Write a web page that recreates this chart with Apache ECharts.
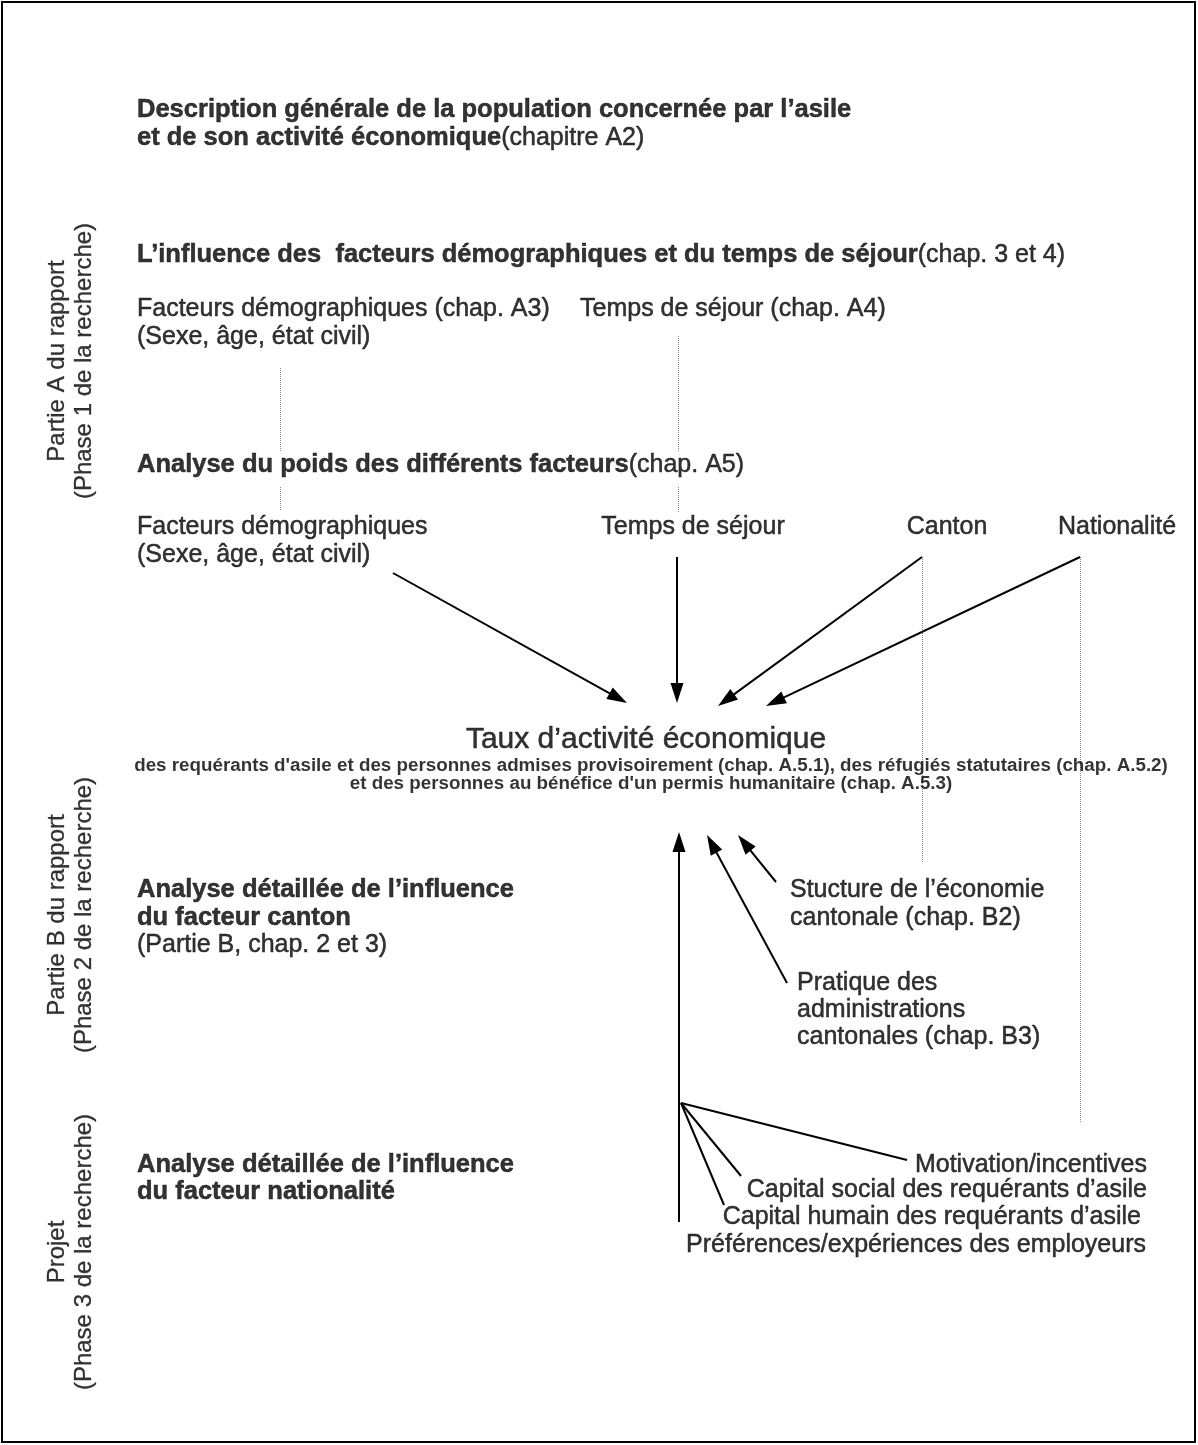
<!DOCTYPE html>
<html>
<head>
<meta charset="utf-8">
<script src="https://cdn.jsdelivr.net/npm/echarts@6/dist/echarts.min.js"></script>
<style>
html,body{margin:0;padding:0;background:#fff;}
#chart{width:1198px;height:1445px;}
</style>
</head>
<body>
<div id="chart"></div>
<script>
// ---- Diagram content (layout units = page pixels) ----
// Section headings: [x, y, bold part, normal suffix]
const headings = [
  [137, 110, 'Description générale de la population concernée par l’asile', ''],
  [137, 138, 'et de son activité économique', '(chapitre A2)'],
  [137, 255, 'L’influence des  facteurs démographiques et du temps de séjour', '(chap. 3 et 4)'],
  [137, 465, 'Analyse du poids des différents facteurs', '(chap. A5)'],
  [137, 890, 'Analyse détaillée de l’influence', ''],
  [137, 918, 'du facteur canton', ''],
  [137, 1165, 'Analyse détaillée de l’influence', ''],
  [137, 1192, 'du facteur nationalité', '']
];
// Plain left-aligned labels: [x, y, text]
const plainLabels = [
  [137, 309, 'Facteurs démographiques (chap. A3)'],
  [137, 337, '(Sexe, âge, état civil)'],
  [580, 309, 'Temps de séjour (chap. A4)'],
  [137, 527, 'Facteurs démographiques'],
  [137, 555, '(Sexe, âge, état civil)'],
  [137, 945, '(Partie B, chap. 2 et 3)'],
  [790, 890, 'Stucture de l’économie'],
  [790, 918, 'cantonale (chap. B2)'],
  [797, 983, 'Pratique des'],
  [797, 1010, 'administrations'],
  [797, 1037, 'cantonales (chap. B3)']
];
// Centered factor names: [x, y, text]
const factorNames = [
  [693, 527, 'Temps de séjour'],
  [947, 527, 'Canton'],
  [1117, 527, 'Nationalité']
];
// Right-aligned nationality factors: [x, y, text]
const nationalityFactors = [
  [1147, 1165, 'Motivation/incentives'],
  [1147, 1190, 'Capital social des requérants d’asile'],
  [1141, 1217, 'Capital humain des requérants d’asile'],
  [1146, 1245, 'Préférences/expériences des employeurs']
];
// Outcome node
const outcomeTitle = [[646, 740, 'Taux d’activité économique']];
const outcomeSub = [
  [651, 766, 'des requérants d\'asile et des personnes admises provisoirement (chap. A.5.1), des réfugiés statutaires (chap. A.5.2)'],
  [651, 784, 'et des personnes au bénéfice d\'un permis humanitaire (chap. A.5.3)']
];
// Phase labels (vertical): [x, y, line1, line2]
const phases = [
  [71, 361, 'Partie A du rapport', '(Phase 1 de la recherche)'],
  [71, 915, 'Partie B du rapport', '(Phase 2 de la recherche)'],
  [71, 1252, 'Projet', '(Phase 3 de la recherche)']
];
// Links: [[x1,y1],[x2,y2]]  (second point = arrow tip)
const arrowsDown = [
  [[393, 573], [627, 703]],
  [[677, 557], [677, 703]],
  [[922, 557], [718, 706]],
  [[1080, 557], [766, 706]]
];
const arrowsUp = [
  [[679, 1222], [679, 832]],
  [[787, 983], [707, 835]],
  [[776, 882], [738, 835]]
];
const fanLines = [
  [[681, 1103], [907, 1160]],
  [[681, 1103], [741, 1176]],
  [[681, 1103], [724, 1205]]
];
const dottedLinks = [
  [[280, 368], [280, 452]],
  [[280, 487], [280, 510]],
  [[678, 336], [678, 452]],
  [[678, 487], [678, 512]],
  [[922, 557], [922, 862]],
  [[1080, 557], [1080, 1122]]
];

// ---- Build chart ----
const FONT = '"Liberation Sans", Arial, Helvetica, sans-serif';
const NORMAL = 25, BOLD = 25.5;
const HEAD_LEN = 20, HEAD_W = 13;
const INK = { color: '#000', textBorderColor: '#000', textBorderWidth: 0.5 };

function textSeries(items, label) {
  return {
    type: 'scatter', symbolSize: 1, silent: true,
    itemStyle: { color: 'rgba(0,0,0,0)' },
    data: items.map(it => ({ value: [it[0], it[1]], label: { formatter: it.fmt } })),
    label: Object.assign({
      show: true, position: 'inside', verticalAlign: 'middle',
      fontFamily: FONT, fontSize: NORMAL
    }, INK, label),
    z: 5
  };
}
function withFmt(arr, f) { return arr.map(a => { const o = [a[0], a[1]]; o.fmt = f(a); return o; }); }
function arrowCoords(seg) {
  const [p, q] = seg;
  const dx = q[0] - p[0], dy = q[1] - p[1];
  const L = Math.sqrt(dx * dx + dy * dy);
  return [p, [q[0] - dx / L * HEAD_LEN / 2, q[1] - dy / L * HEAD_LEN / 2]];
}
function lineSeries(segs, style, arrow) {
  return {
    type: 'lines', coordinateSystem: 'cartesian2d', silent: true,
    symbol: arrow ? ['none', 'triangle'] : ['none', 'none'],
    symbolSize: arrow ? [0, [HEAD_W, HEAD_LEN]] : 0,
    lineStyle: Object.assign({ color: '#000', width: 2, opacity: 1, curveness: 0 }, style),
    data: segs.map(s => ({ coords: arrow ? arrowCoords(s) : s })),
    z: 3
  };
}

const richStyles = {
  b: Object.assign({ fontFamily: FONT, fontSize: BOLD, fontWeight: 'bold' }, INK),
  n: Object.assign({ fontFamily: FONT, fontSize: NORMAL }, INK)
};

const chart = echarts.init(document.getElementById('chart'), null, { renderer: 'canvas' });
chart.setOption({
  animation: false,
  backgroundColor: '#fff',
  grid: { left: 0, right: 0, top: 0, bottom: 0 },
  xAxis: { type: 'value', min: 0, max: 1198, show: false },
  yAxis: { type: 'value', min: 0, max: 1445, inverse: true, show: false },
  graphic: [{
    type: 'rect', silent: true, z: 100,
    shape: { x: 2, y: 2, width: 1193, height: 1440 },
    style: { fill: 'none', stroke: '#000', lineWidth: 2 }
  }],
  series: [
    lineSeries(dottedLinks, { color: '#8a8a8a', width: 1, type: 'dotted' }, false),
    lineSeries(arrowsDown, {}, true),
    lineSeries(arrowsUp, {}, true),
    lineSeries(fanLines, {}, false),
    textSeries(withFmt(headings, a => '{b|' + a[2] + '}' + (a[3] ? '{n|' + a[3] + '}' : '')),
      { align: 'left', rich: richStyles }),
    textSeries(withFmt(plainLabels, a => a[2]), { align: 'left' }),
    textSeries(withFmt(factorNames, a => a[2]), { align: 'center' }),
    textSeries(withFmt(nationalityFactors, a => a[2]), { align: 'right' }),
    textSeries(withFmt(outcomeTitle, a => a[2]), { align: 'center', fontSize: 30 }),
    textSeries(withFmt(outcomeSub, a => a[2]), { align: 'center', fontSize: 18.8, fontWeight: 'bold', textBorderWidth: 0 }),
    textSeries(withFmt(phases, a => a[2] + '\n' + a[3]),
      { align: 'center', rotate: 90, fontSize: 24, lineHeight: 27, textBorderWidth: 0.3 })
  ]
});
</script>
</body>
</html>
